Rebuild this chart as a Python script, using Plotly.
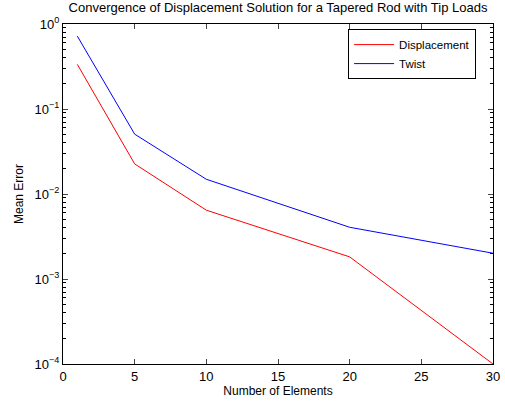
import plotly.graph_objects as go

elements = [1, 5, 10, 20, 30]
displacement = [0.335, 0.0226, 0.00645, 0.00182, 0.0001]
twist = [0.72, 0.0506, 0.0149, 0.00406, 0.00201]

ytick_vals = [1e-4, 1e-3, 1e-2, 1e-1, 1]
ytick_text = ["10<sup>−4</sup>", "10<sup>−3</sup>", "10<sup>−2</sup>", "10<sup>−1</sup>", "10<sup>0</sup>"]
minor_vals = [m * 10 ** e for e in range(-4, 0) for m in range(2, 10)]

font = "Liberation Sans, Arial, sans-serif"

fig = go.Figure()
fig.add_trace(go.Scatter(x=elements, y=displacement, mode="lines", name="Displacement",
                         line=dict(color="#ff0000", width=1)))
fig.add_trace(go.Scatter(x=elements, y=twist, mode="lines", name="Twist",
                         line=dict(color="#0000ff", width=1)))

fig.update_layout(
    width=505, height=402,
    margin=dict(l=63, r=12, t=24, b=38, autoexpand=False),
    paper_bgcolor="white", plot_bgcolor="white",
    font=dict(family=font, size=12, color="black"),
    title=dict(text="Convergence of Displacement Solution for a Tapered Rod with Tip Loads",
               x=0.5, xanchor="center", xref="paper", y=1, yref="container", yanchor="top",
               pad=dict(t=3), font=dict(size=13)),
    showlegend=True,
    legend=dict(x=0.663, y=0.985, xanchor="left", yanchor="top",
                bordercolor="black", borderwidth=1, bgcolor="white",
                font=dict(size=11.5), tracegroupgap=0, itemwidth=40),
    xaxis=dict(range=[0, 30], tickvals=[0, 5, 10, 15, 20, 25, 30], ticks="inside", ticklen=5,
               showline=True, linecolor="black", linewidth=1, mirror="allticks",
               showgrid=False, zeroline=False, tickfont=dict(size=13), automargin=False,
               title=dict(text="Number of Elements", font=dict(size=12), standoff=2)),
    yaxis=dict(type="log", range=[-4, 0], tickvals=ytick_vals, ticktext=ytick_text,
               ticks="inside", ticklen=5, showline=True, linecolor="black", linewidth=1,
               mirror="allticks", showgrid=False, zeroline=False, tickfont=dict(size=13),
               automargin=False,
               minor=dict(tickvals=minor_vals, ticks="inside", ticklen=3, tickcolor="black", showgrid=False),
               title=dict(text="Mean Error", font=dict(size=12), standoff=8)),
)

fig.write_html("out.html")
